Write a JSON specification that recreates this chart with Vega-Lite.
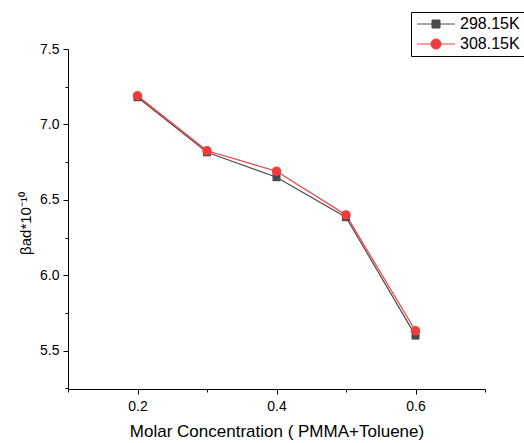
{
  "$schema": "https://vega.github.io/schema/vega-lite/v6.json",
  "autosize": "none",
  "width": 417,
  "height": 340,
  "padding": {"left": 68, "top": 49, "right": 39, "bottom": 54},
  "background": "white",
  "config": {
    "view": {"stroke": null},
    "font": "Liberation Sans",
    "axis": {"grid": false, "domainColor": "black", "tickColor": "black", "labelColor": "black", "titleColor": "black", "labelFont": "Liberation Sans", "titleFont": "Liberation Sans", "titleFontWeight": "normal", "labelFontSize": 14, "titleFontSize": 15}
  },
  "data": {
    "values": [
      {"series": "298.15K", "x": 0.2, "y": 7.18},
      {"series": "298.15K", "x": 0.3, "y": 6.815},
      {"series": "298.15K", "x": 0.4, "y": 6.65},
      {"series": "298.15K", "x": 0.5, "y": 6.385},
      {"series": "298.15K", "x": 0.6, "y": 5.6},
      {"series": "308.15K", "x": 0.2, "y": 7.19},
      {"series": "308.15K", "x": 0.3, "y": 6.825},
      {"series": "308.15K", "x": 0.4, "y": 6.69},
      {"series": "308.15K", "x": 0.5, "y": 6.4},
      {"series": "308.15K", "x": 0.6, "y": 5.632}
    ]
  },
  "encoding": {
    "x": {
      "field": "x", "type": "quantitative",
      "scale": {"domain": [0.1, 0.7], "nice": false, "zero": false},
      "axis": {
        "title": "Molar Concentration ( PMMA+Toluene)",
        "titleFontSize": 17,
        "values": [0.1, 0.2, 0.3, 0.4, 0.5, 0.6, 0.7],
        "labelExpr": "(round(datum.value*10) % 2 == 0) ? format(datum.value, '.1f') : ''",
        "tickSize": {"condition": {"test": "round(datum.value*10) % 2 == 0", "value": 5}, "value": 3},
        "labelPadding": 5,
        "titlePadding": 10,
        "labelFlush": false
      }
    },
    "y": {
      "field": "y", "type": "quantitative",
      "scale": {"domain": [5.246, 7.5], "nice": false, "zero": false},
      "axis": {
        "title": "βad*10⁻¹⁰",
        "values": [5.25, 5.5, 5.75, 6.0, 6.25, 6.5, 6.75, 7.0, 7.25, 7.5],
        "labelExpr": "(round(datum.value*4) % 2 == 0) ? format(datum.value, '.1f') : ''",
        "tickSize": {"condition": {"test": "round(datum.value*4) % 2 == 0", "value": 5}, "value": 3},
        "labelPadding": 4,
        "titlePadding": 6,
        "titleY": 174,
        "labelFlush": false
      }
    },
    "color": {
      "field": "series", "type": "nominal",
      "scale": {"domain": ["298.15K", "308.15K"], "range": ["#4a4a4a", "#f03c3c"]},
      "legend": {
        "title": null,
        "orient": "none",
        "legendX": 343,
        "legendY": -37,
        "strokeColor": "black",
        "fillColor": "white",
        "padding": 4,
        "labelFontSize": 16,
        "labelColor": "black",
        "labelFont": "Liberation Sans",
        "symbolSize": 100,
        "symbolOffset": 13,
        "symbolStrokeWidth": 1,
        "labelOffset": 16,
        "rowPadding": 4,
        "encode": {
          "symbols": {
            "update": {
              "shape": {"signal": "datum.value === '298.15K' ? 'M-3.8,0L3.8,0M-0.8,-0.8L0.8,-0.8L0.8,0.8L-0.8,0.8Z' : 'M-3.8,0L3.8,0M-1,0A1,1 0 1,0 1,0A1,1 0 1,0 -1,0Z'"},
              "fill": {"signal": "scale('color', datum.value)"},
              "stroke": {"signal": "scale('color', datum.value)"},
              "opacity": {"value": 1},
              "fillOpacity": {"value": 1},
              "strokeWidth": {"value": 1}
            }
          }
        }
      }
    }
  },
  "layer": [
    {"mark": {"type": "line", "strokeWidth": 1.2}},
    {
      "transform": [{"filter": "datum.series === '298.15K'"}],
      "mark": {"type": "point", "filled": true, "opacity": 1, "shape": "square", "size": 64}
    },
    {
      "transform": [{"filter": "datum.series === '308.15K'"}],
      "mark": {"type": "point", "filled": true, "opacity": 1, "shape": "circle", "size": 90}
    }
  ]
}
